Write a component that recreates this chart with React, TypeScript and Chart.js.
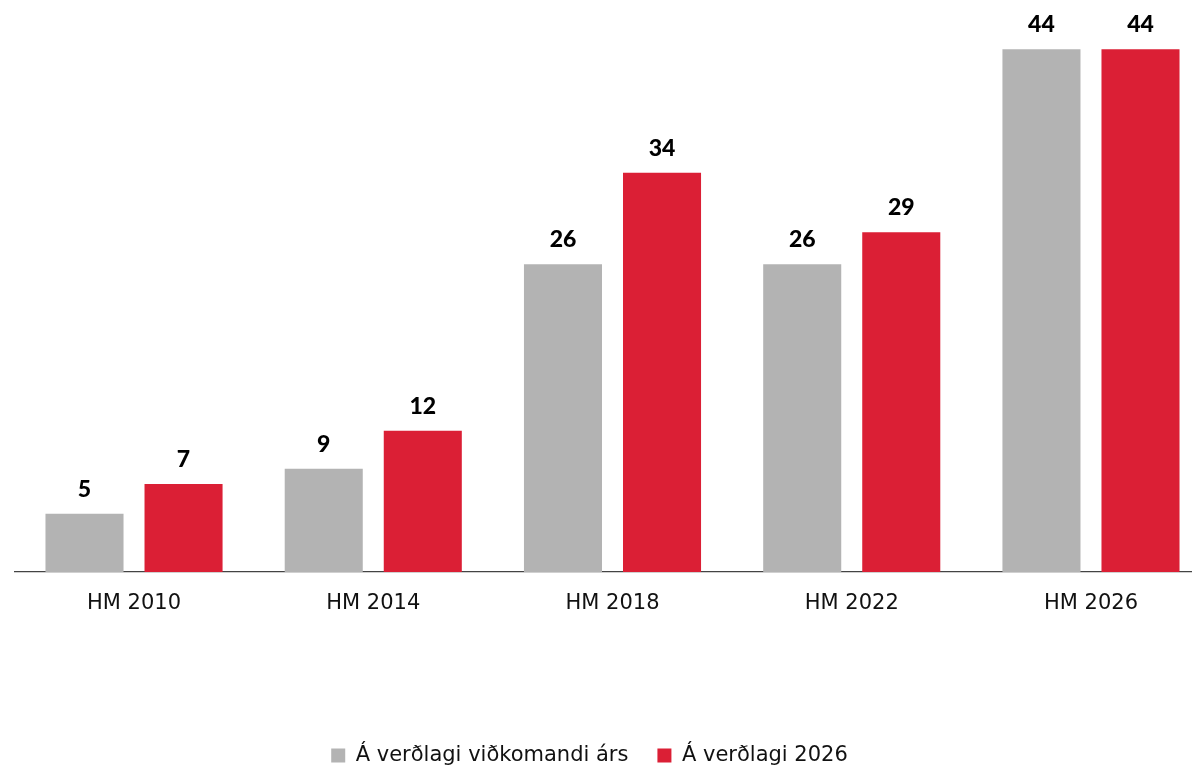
import React, { useEffect, useRef } from "react";
import { Chart, registerables } from "chart.js";

Chart.register(...registerables);

const categories = ["HM 2010", "HM 2014", "HM 2018", "HM 2022", "HM 2026"];
const seriesNames = ["Á verðlagi viðkomandi árs", "Á verðlagi 2026"];
const nominalValues = [4.9, 8.7, 25.9, 25.9, 44.0];
const realValues = [7.4, 11.9, 33.6, 28.6, 44.0];
const colors = ["#b3b3b3", "#db1f35"];

const NUM_FONT = "Lato, 'DejaVu Sans', sans-serif";
const TEXT_FONT = "'DejaVu Sans', sans-serif";

const valueLabelPlugin = {
  id: "valueLabels",
  afterDatasetsDraw(chart: any) {
    const ctx = chart.ctx;
    ctx.save();
    ctx.font = `900 23px ${NUM_FONT}`;
    ctx.fillStyle = "#000";
    ctx.textAlign = "center";
    ctx.textBaseline = "alphabetic";
    chart.data.datasets.forEach((ds: any, di: number) => {
      const meta = chart.getDatasetMeta(di);
      meta.data.forEach((bar: any, i: number) => {
        const v = ds.data[i];
        ctx.fillText(String(Math.round(v)), bar.x, bar.y - 17);
      });
    });
    ctx.restore();
  },
};

export default function App() {
  const ref = useRef<HTMLCanvasElement>(null);
  useEffect(() => {
    let chart: any = null;
    let cancelled = false;
    const build = () => {
      if (cancelled || !ref.current) return;
      chart = new Chart(ref.current, {
        type: "bar",
        data: {
          labels: categories,
          datasets: [
            { label: seriesNames[0], data: nominalValues, backgroundColor: colors[0] },
            { label: seriesNames[1], data: realValues, backgroundColor: colors[1] },
          ],
        },
        options: {
          animation: false,
          responsive: false,
          maintainAspectRatio: false,
          layout: { padding: { left: 18.4, right: 14.4, top: 0, bottom: 0 } },
          datasets: { bar: { categoryPercentage: 0.828, barPercentage: 0.788 } },
          plugins: {
            legend: {
              position: "bottom",
              labels: {
                font: { family: TEXT_FONT, size: 21 },
                color: "#111",
                boxWidth: 14,
                boxHeight: 14,
                padding: 29,
              },
            },
            tooltip: { enabled: false },
          },
          scales: {
            x: {
              grid: { display: false, drawTicks: false },
              border: { display: true, color: "#444", width: 1.2 },
              ticks: { font: { family: TEXT_FONT, size: 21 }, color: "#111", padding: 19 },
              afterFit: (s: any) => {
                s.height = 144;
              },
            },
            y: {
              display: true,
              min: 0,
              max: 48.15,
              grid: { display: false, drawTicks: false },
              border: { display: false },
              ticks: { display: false },
              afterFit: (s: any) => {
                s.width = 46;
              },
            },
          },
        },
        plugins: [valueLabelPlugin],
      } as any);
    };
    const fonts: any = (document as any).fonts;
    if (fonts && fonts.load) {
      Promise.all([fonts.load("900 23px Lato"), fonts.load("21px 'DejaVu Sans'")])
        .catch(() => null)
        .then(build);
    } else {
      build();
    }
    return () => {
      cancelled = true;
      if (chart) chart.destroy();
    };
  }, []);
  return (
    <div style={{ position: "fixed", left: 0, top: 0, width: 1192, height: 770, overflow: "hidden", background: "#fff" }}>
      <canvas ref={ref} width={1275} height={776} style={{ position: "absolute", left: -50, top: 0, width: 1275, height: 776 }} />
    </div>
  );
}
